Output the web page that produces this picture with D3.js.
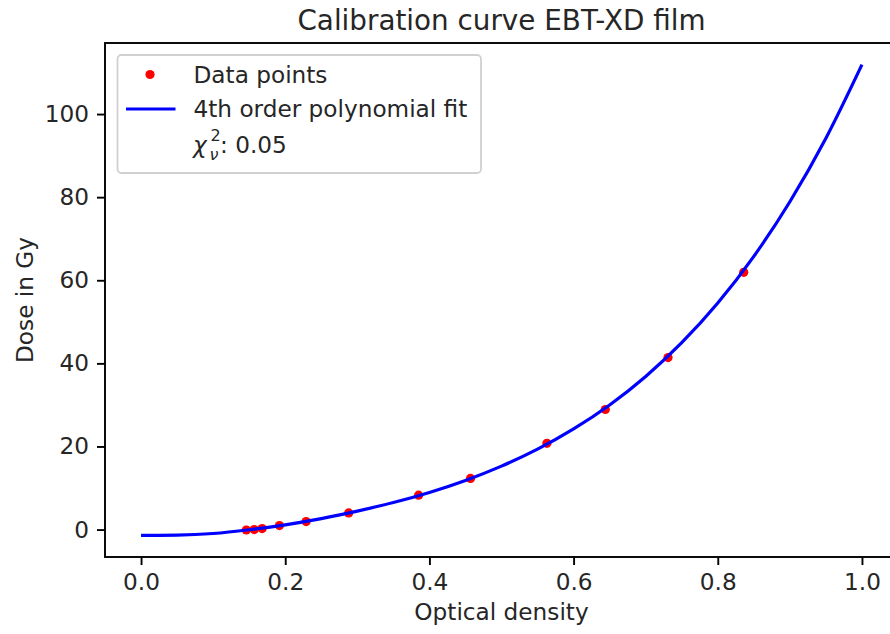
<!DOCTYPE html>
<html>
<head>
<meta charset="utf-8">
<script src="https://cdn.jsdelivr.net/npm/d3@7"></script>
<style>
  html, body { margin: 0; padding: 0; background: #fff; }
  svg { display: block; font-family: "DejaVu Sans", sans-serif; }
</style>
</head>
<body>
<svg id="chart" width="890" height="634"></svg>
<script>
// ---- data ----
const titleText = "Calibration curve EBT-XD film";
const xLabelText = "Optical density";
const yLabelText = "Dose in Gy";
const odValues   = [0.146, 0.157, 0.168, 0.192, 0.229, 0.288, 0.385, 0.457, 0.563, 0.644, 0.731, 0.836];
const doseValues = [-0.1, 0.0, 0.25, 0.96, 1.93, 4.0, 8.27, 12.3, 20.75, 28.9, 41.4, 61.9];
const fitOD   = [0, 0.05, 0.10, 0.15, 0.20, 0.25, 0.30, 0.35, 0.40, 0.45, 0.50, 0.55, 0.60, 0.65, 0.70, 0.75, 0.80, 0.85, 0.90, 0.95, 1.00];
const fitDose = [-1.40, -1.33, -0.95, -0.05, 1.15, 2.65, 4.45, 6.5, 8.94, 11.83, 15.27, 19.35, 24.22, 29.99, 36.85, 44.97, 54.52, 65.76, 78.9, 94.19, 111.9];
const xTicks = [0.0, 0.2, 0.4, 0.6, 0.8, 1.0];
const yTicks = [0, 20, 40, 60, 80, 100];
const legendLabels = ["Data points", "4th order polynomial fit"];
const chiValue = "0.05";

// ---- layout ----
const svg = d3.select("#chart");
const mLeft = 105, mRight = 898, mTop = 43, mBottom = 557;
const x = d3.scaleLinear().domain([-0.05, 1.05]).range([mLeft, mRight]);
const y = d3.scaleLinear().domain([-6.6, 117.1]).range([mBottom, mTop]);

const tickFont = 23.2;

// data points (drawn first, line on top)
svg.append("g").selectAll("circle")
  .data(odValues.map((v, i) => [v, doseValues[i]]))
  .join("circle")
  .attr("cx", d => x(d[0]))
  .attr("cy", d => y(d[1]))
  .attr("r", 4.6)
  .attr("fill", "#ff0000");

// fit line
const line = d3.line().x(d => x(d[0])).y(d => y(d[1])).curve(d3.curveMonotoneX);
svg.append("path")
  .datum(fitOD.map((v, i) => [v, fitDose[i]]))
  .attr("d", line)
  .attr("fill", "none")
  .attr("stroke", "#0000ff")
  .attr("stroke-width", 3.2);

// axes
const xAxis = svg.append("g").attr("transform", `translate(0,${mBottom})`)
  .call(d3.axisBottom(x).tickValues(xTicks).tickFormat(d3.format(".1f")).tickSize(8).tickPadding(8));
const yAxis = svg.append("g").attr("transform", `translate(${mLeft},0)`)
  .call(d3.axisLeft(y).tickValues(yTicks).tickFormat(d3.format("d")).tickSize(8).tickPadding(8));
[xAxis, yAxis].forEach(g => {
  g.select(".domain").remove();
  g.selectAll(".tick line").attr("stroke", "#000").attr("stroke-width", 1.9);
  g.selectAll(".tick text").attr("fill", "#262626").style("font-size", tickFont + "px")
    .style("font-family", "'DejaVu Sans', sans-serif");
});
xAxis.selectAll(".tick text").attr("dy", "0.75em");

// spines
svg.append("rect")
  .attr("x", mLeft).attr("y", mTop)
  .attr("width", mRight - mLeft).attr("height", mBottom - mTop)
  .attr("fill", "none").attr("stroke", "#000").attr("stroke-width", 1.9);

// title & labels
svg.append("text").attr("x", (mLeft + mRight) / 2).attr("y", 30)
  .attr("text-anchor", "middle").attr("fill", "#262626")
  .style("font-size", "27.8px").text(titleText);
svg.append("text").attr("x", (mLeft + mRight) / 2).attr("y", 620)
  .attr("text-anchor", "middle").attr("fill", "#262626")
  .style("font-size", tickFont + "px").text(xLabelText);
svg.append("text").attr("transform", `translate(33,${(mTop + mBottom) / 2}) rotate(-90)`)
  .attr("text-anchor", "middle").attr("fill", "#262626")
  .style("font-size", tickFont + "px").text(yLabelText);

// legend
const lg = svg.append("g");
lg.append("rect").attr("x", 117.5).attr("y", 55).attr("width", 363.5).attr("height", 118)
  .attr("rx", 4).attr("fill", "#fff").attr("fill-opacity", 0.8)
  .attr("stroke", "#d0d0d0").attr("stroke-width", 1.8);
lg.append("circle").attr("cx", 150).attr("cy", 74.5).attr("r", 4.6).attr("fill", "#ff0000");
lg.append("line").attr("x1", 126).attr("x2", 175.5).attr("y1", 109).attr("y2", 109)
  .attr("stroke", "#0000ff").attr("stroke-width", 3.2);
lg.append("text").attr("x", 193.5).attr("y", 82.5).attr("fill", "#262626")
  .style("font-size", tickFont + "px").text(legendLabels[0]);
lg.append("text").attr("x", 193.5).attr("y", 117).attr("fill", "#262626")
  .style("font-size", tickFont + "px").text(legendLabels[1]);
// chi^2_nu : 0.05
lg.append("text").attr("x", 193).attr("y", 153).attr("fill", "#262626")
  .style("font-size", tickFont + "px").style("font-style", "italic").text("χ");
lg.append("text").attr("x", 210.5).attr("y", 141).attr("fill", "#262626")
  .style("font-size", "16px").text("2");
lg.append("text").attr("x", 209.5).attr("y", 160).attr("fill", "#262626")
  .style("font-size", "16px").style("font-style", "italic").text("ν");
lg.append("text").attr("x", 220).attr("y", 153).attr("fill", "#262626")
  .style("font-size", tickFont + "px").text(": " + chiValue);
</script>
</body>
</html>
